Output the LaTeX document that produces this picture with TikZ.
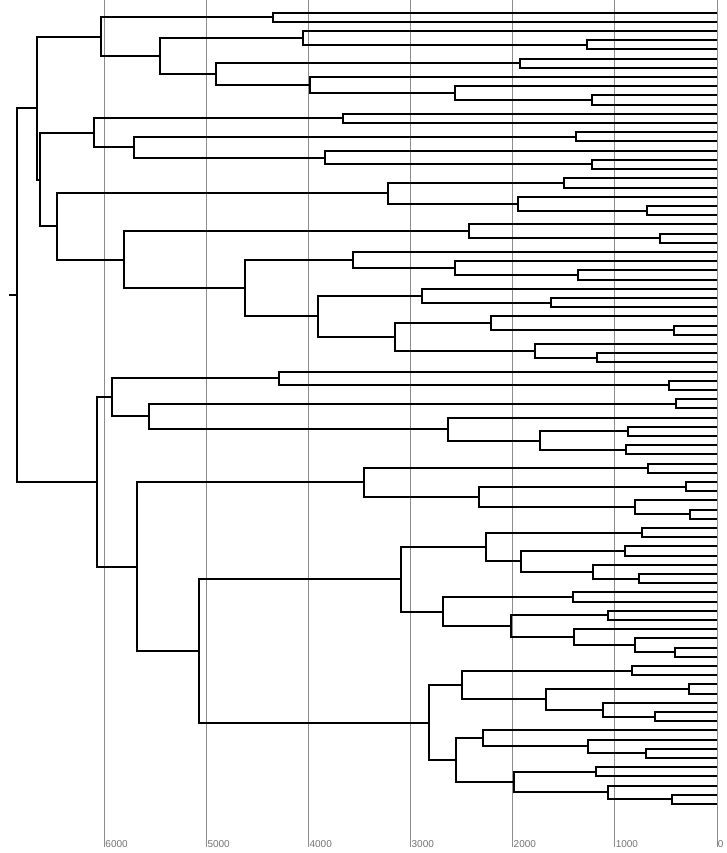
\documentclass[tikz,border=0pt]{standalone}
\usepackage{fontspec}
\setmainfont{Liberation Sans}
\usepackage{xcolor}
\usepackage{tikz}
\usetikzlibrary{calc}
\tikzset{
    branch/.style={draw=black, line width=2pt},
    gridline/.style={draw=black!45, line width=1pt},
    axislabel/.style={anchor=base west, inner sep=0.6pt, text=black!55, font=\fontsize{10}{12}\selectfont}
}
% x position of a merge height (0 at the right edge)
\newcommand{\hx}[1]{717-0.10205*#1}
% join two clusters at a given height
\newcommand{\mergeat}[4]{%
    \path let \p1=($(#3)!0.5!(#4)$) in coordinate (#1) at ({(\hx{#2})*1pt},\y1);
    \draw[branch] (#3) -| (#1) |- (#4);
}

\begin{document}
\begin{tikzpicture}[x=1pt, y=-1pt]
    \useasboundingbox (0,0) rectangle (727,853);

    % Grid
    \foreach \t in {0,...,6} {
        \coordinate (gtop\t) at ({\hx{1000*\t}}, 0);
        \coordinate (gbot\t) at ({\hx{1000*\t}}, 847);
        \draw[gridline] (gtop\t) -- (gbot\t);
    }
    \foreach \t/\lab in {0/0, 1/1000, 2/2000, 3/3000, 4/4000, 5/5000, 6/6000}
        \node[axislabel] (lab\t) at (gbot\t) {\lab};

    % Leaves
    \foreach \k in {0,...,86}
        \coordinate (l\k) at (717, {12.7+9.2*\k});

    % Upper cluster
    \mergeat{m0t1}{4351}{l0}{l1}
    \mergeat{m3t4}{1276}{l3}{l4}
    \mergeat{m2t4}{4061}{l2}{m3t4}
    \mergeat{m5t6}{1930}{l5}{l6}
    \mergeat{m9t10}{1226}{l9}{l10}
    \mergeat{m8t10}{2566}{l8}{m9t10}
    \mergeat{m7t10}{3992}{l7}{m8t10}
    \mergeat{m5t10}{4910}{m5t6}{m7t10}
    \mergeat{m2t10}{5455}{m2t4}{m5t10}
    \mergeat{m0t10}{6032}{m0t1}{m2t10}
    \mergeat{m11t12}{3661}{l11}{l12}
    \mergeat{m13t14}{1381}{l13}{l14}
    \mergeat{m16t17}{1222}{l16}{l17}
    \mergeat{m15t17}{3843}{l15}{m16t17}
    \mergeat{m13t17}{5714}{m13t14}{m15t17}
    \mergeat{m11t17}{6100}{m11t12}{m13t17}
    \mergeat{m18t19}{1499}{l18}{l19}
    \mergeat{m21t22}{686}{l21}{l22}
    \mergeat{m20t22}{1949}{l20}{m21t22}
    \mergeat{m18t22}{3220}{m18t19}{m20t22}
    \mergeat{m24t25}{559}{l24}{l25}
    \mergeat{m23t25}{2430}{l23}{m24t25}
    \mergeat{m28t29}{1363}{l28}{l29}
    \mergeat{m27t29}{2566}{l27}{m28t29}
    \mergeat{m26t29}{3565}{l26}{m27t29}
    \mergeat{m31t32}{1626}{l31}{l32}
    \mergeat{m30t32}{2893}{l30}{m31t32}
    \mergeat{m34t35}{422}{l34}{l35}
    \mergeat{m33t35}{2212}{l33}{m34t35}
    \mergeat{m37t38}{1176}{l37}{l38}
    \mergeat{m36t38}{1780}{l36}{m37t38}
    \mergeat{m33t38}{3152}{m33t35}{m36t38}
    \mergeat{m30t38}{3906}{m30t32}{m33t38}
    \mergeat{m26t38}{4624}{m26t29}{m30t38}
    \mergeat{m23t38}{5809}{m23t25}{m26t38}
    \mergeat{m18t38}{6468}{m18t22}{m23t38}
    \mergeat{m11t38}{6631}{m11t17}{m18t38}
    \mergeat{m0t38}{6659}{m0t10}{m11t38}

    % Lower cluster
    \mergeat{m40t41}{468}{l40}{l41}
    \mergeat{m39t41}{4288}{l39}{m40t41}
    \mergeat{m42t43}{400}{l42}{l43}
    \mergeat{m45t46}{872}{l45}{l46}
    \mergeat{m47t48}{890}{l47}{l48}
    \mergeat{m45t48}{1731}{m45t46}{m47t48}
    \mergeat{m44t48}{2634}{l44}{m45t48}
    \mergeat{m42t48}{5564}{m42t43}{m44t48}
    \mergeat{m39t48}{5932}{m39t41}{m42t48}
    \mergeat{m49t50}{677}{l49}{l50}
    \mergeat{m51t52}{304}{l51}{l52}
    \mergeat{m54t55}{268}{l54}{l55}
    \mergeat{m53t55}{804}{l53}{m54t55}
    \mergeat{m51t55}{2330}{m51t52}{m53t55}
    \mergeat{m49t55}{3456}{m49t50}{m51t55}
    \mergeat{m56t57}{731}{l56}{l57}
    \mergeat{m58t59}{904}{l58}{l59}
    \mergeat{m61t62}{763}{l61}{l62}
    \mergeat{m60t62}{1213}{l60}{m61t62}
    \mergeat{m58t62}{1917}{m58t59}{m60t62}
    \mergeat{m56t62}{2262}{m56t57}{m58t62}
    \mergeat{m63t64}{1408}{l63}{l64}
    \mergeat{m65t66}{1067}{l65}{l66}
    \mergeat{m69t70}{409}{l69}{l70}
    \mergeat{m68t70}{804}{l68}{m69t70}
    \mergeat{m67t70}{1399}{l67}{m68t70}
    \mergeat{m65t70}{2017}{m65t66}{m67t70}
    \mergeat{m63t70}{2684}{m63t64}{m65t70}
    \mergeat{m56t70}{3093}{m56t62}{m63t70}
    \mergeat{m71t72}{831}{l71}{l72}
    \mergeat{m73t74}{277}{l73}{l74}
    \mergeat{m76t77}{604}{l76}{l77}
    \mergeat{m75t77}{1117}{l75}{m76t77}
    \mergeat{m73t77}{1676}{m73t74}{m75t77}
    \mergeat{m71t77}{2498}{m71t72}{m73t77}
    \mergeat{m80t81}{699}{l80}{l81}
    \mergeat{m79t81}{1263}{l79}{m80t81}
    \mergeat{m78t81}{2289}{l78}{m79t81}
    \mergeat{m82t83}{1185}{l82}{l83}
    \mergeat{m85t86}{441}{l85}{l86}
    \mergeat{m84t86}{1067}{l84}{m85t86}
    \mergeat{m82t86}{1985}{m82t83}{m84t86}
    \mergeat{m78t86}{2557}{m78t81}{m82t86}
    \mergeat{m71t86}{2825}{m71t77}{m78t86}
    \mergeat{m56t86}{5073}{m56t70}{m71t86}
    \mergeat{m49t86}{5682}{m49t55}{m56t86}
    \mergeat{m39t86}{6077}{m39t48}{m49t86}

    % Root
    \mergeat{root}{6863}{m0t38}{m39t86}
    \path let \p1=(root) in coordinate (stub) at (9pt,\y1);
    \draw[branch] (root) -- (stub);
\end{tikzpicture}
\end{document}
